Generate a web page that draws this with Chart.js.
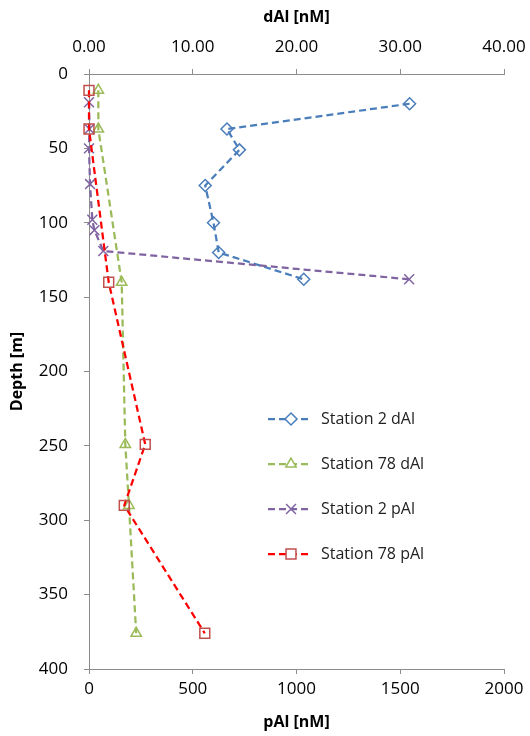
<!DOCTYPE html>
<html>
<head>
<meta charset="utf-8">
<script src="https://cdn.jsdelivr.net/npm/chart.js@4/dist/chart.umd.min.js"></script>
<style>
  html, body { margin: 0; padding: 0; background: #fff; }
  #wrap { width: 530px; height: 736px; }
</style>
</head>
<body>
<div id="wrap"><canvas id="profile" width="530" height="736"></canvas></div>
<script>
// depth profiles (m) and concentrations (nM)
const st2DalDepth = [20, 37, 51, 75, 100, 120, 138];
const st2Dal = [30.9, 13.3, 14.5, 11.2, 12.0, 12.5, 20.7];

const st78DalDepth = [11, 37, 140, 249, 290, 376];
const st78Dal = [0.9, 0.9, 3.15, 3.5, 3.85, 4.55];

const st2PalDepth = [19, 37, 50, 74, 98, 105, 119, 138];
const st2Pal = [0, 2, 0, 5, 16, 26, 69, 1543];

const st78PalDepth = [11, 37, 140, 249, 290, 376];
const st78Pal = [0, 0, 95, 271, 170, 558];

const depthTicks = [0, 50, 100, 150, 200, 250, 300, 350, 400];

function pts(xs, ys) {
    return xs.map((v, i) => ({ x: v, y: ys[i] }));
}

const tickFont = { family: 'Open Sans', size: 17 };
const titleFont = { family: 'Open Sans', size: 16, weight: 'bold' };
const axisGrey = '#8c8c8c';

// legend drawn inside the plot, like the spreadsheet one
const insideLegend = {
    id: 'insideLegend',
    afterDraw(chart) {
        const ctx = chart.ctx;
        const area = chart.chartArea;
        chart.data.datasets.forEach((ds, i) => {
            const y = area.top + 345 + i * 45;
            const x0 = area.left + 179;
            ctx.save();
            ctx.strokeStyle = ds.borderColor;
            ctx.lineWidth = ds.borderWidth;
            ctx.setLineDash(ds.borderDash);
            ctx.beginPath();
            ctx.moveTo(x0, y);
            ctx.lineTo(x0 + 44, y);
            ctx.stroke();
            ctx.setLineDash([]);
            ctx.strokeStyle = ds.pointBorderColor;
            ctx.fillStyle = '#fff';
            ctx.lineWidth = ds.pointBorderWidth;
            Chart.helpers.drawPoint(ctx, {
                pointStyle: ds.pointStyle,
                radius: ds.pointRadius,
                borderWidth: ds.pointBorderWidth,
                rotation: 0
            }, x0 + 23, y);
            ctx.fillStyle = '#222';
            ctx.font = '16px "Open Sans"';
            ctx.textBaseline = 'middle';
            ctx.textAlign = 'left';
            ctx.fillText(ds.label, x0 + 53, y);
            ctx.restore();
        });
    }
};

function noPad(scale) {
    scale.paddingLeft = 0;
    scale.paddingRight = 0;
    scale.paddingTop = 0;
    scale.paddingBottom = 0;
}

const ctx = document.getElementById('profile').getContext('2d');
const chart = new Chart(ctx, {
    type: 'scatter',
    data: {
        datasets: [{
            label: 'Station 2 dAl',
            data: pts(st2Dal, st2DalDepth),
            xAxisID: 'x2',
            borderColor: '#4a7ebb',
            pointBorderColor: '#4a7ebb',
            pointStyle: 'rectRot',
            pointRadius: 6,
            order: 4
        }, {
            label: 'Station 78 dAl',
            data: pts(st78Dal, st78DalDepth),
            xAxisID: 'x2',
            borderColor: '#9bbb59',
            pointBorderColor: '#9bbb59',
            pointStyle: 'triangle',
            pointRadius: 6,
            order: 3
        }, {
            label: 'Station 2 pAl',
            data: pts(st2Pal, st2PalDepth),
            xAxisID: 'x',
            borderColor: '#8064a2',
            pointBorderColor: '#8064a2',
            pointStyle: 'crossRot',
            pointRadius: 7,
            order: 2
        }, {
            label: 'Station 78 pAl',
            data: pts(st78Pal, st78PalDepth),
            xAxisID: 'x',
            borderColor: '#ff0000',
            pointBorderColor: '#c0504d',
            pointStyle: 'rect',
            pointRadius: 7,
            order: 1
        }].map(ds => Object.assign({
            showLine: true,
            clip: false,
            borderWidth: 2.25,
            borderDash: [7, 4],
            pointBackgroundColor: 'rgba(0,0,0,0)',
            pointBorderWidth: 1.5,
            tension: 0
        }, ds))
    },
    options: {
        responsive: false,
        animation: false,
        layout: { padding: { right: 26 } },
        scales: {
            x: {
                type: 'linear',
                position: 'bottom',
                min: 0,
                max: 2000,
                ticks: {
                    stepSize: 500, font: tickFont, color: '#000', padding: 5, maxRotation: 0,
                    callback: v => String(v)
                },
                grid: { drawOnChartArea: false, tickLength: 5, color: axisGrey },
                border: { color: axisGrey },
                title: { display: true, text: 'pAl [nM]', font: titleFont, color: '#000', padding: { top: 6 } },
                afterFit(scale) { scale.height = 67; noPad(scale); }
            },
            x2: {
                type: 'linear',
                position: 'top',
                min: 0,
                max: 40,
                ticks: {
                    stepSize: 10, font: tickFont, color: '#000', padding: 12, maxRotation: 0,
                    callback: v => v.toFixed(2)
                },
                grid: { drawOnChartArea: false, tickLength: 5, color: axisGrey },
                border: { color: axisGrey },
                title: { display: true, text: 'dAl [nM]', font: titleFont, color: '#000', padding: { top: 8 } },
                afterFit(scale) { scale.height = 74; noPad(scale); }
            },
            y: {
                type: 'linear',
                reverse: true,
                min: 0,
                max: 400,
                afterBuildTicks(scale) { scale.ticks = depthTicks.map(v => ({ value: v })); },
                ticks: { font: tickFont, color: '#000', padding: 16 },
                grid: { drawOnChartArea: false, tickLength: 5, color: axisGrey },
                border: { color: axisGrey },
                title: { display: true, text: 'Depth [m]', font: titleFont, color: '#000', padding: { top: 8 } },
                afterFit(scale) { scale.width = 89; noPad(scale); }
            }
        },
        plugins: {
            legend: { display: false },
            tooltip: { enabled: false }
        }
    },
    plugins: [insideLegend]
});
</script>
</body>
</html>
